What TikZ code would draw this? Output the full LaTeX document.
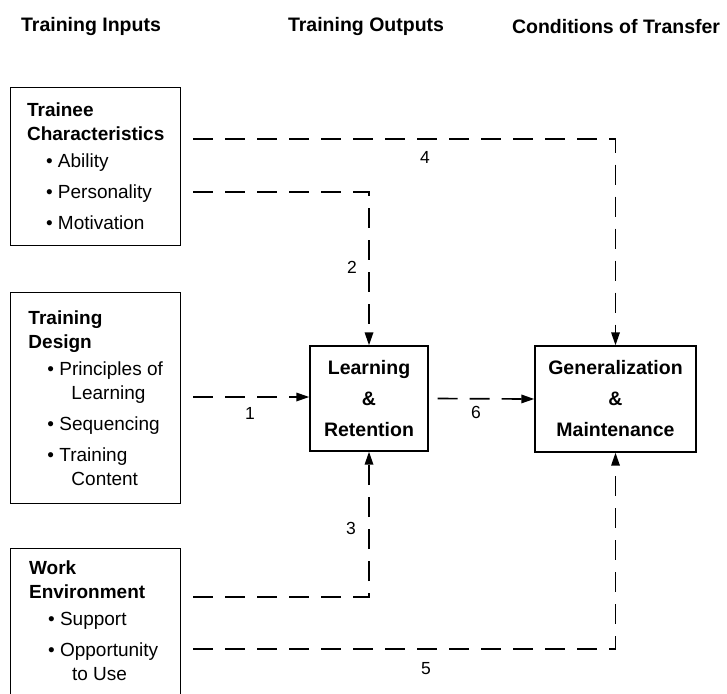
\documentclass[tikz,border=0pt]{standalone}
\usepackage{fontspec}
\setmainfont{Liberation Sans}
\usetikzlibrary{arrows.meta, positioning}

\tikzset{
  inbox/.style={draw, line width=1.4pt, align=left, anchor=north west,
    minimum width=170pt, inner sep=12pt, font=\fontsize{19}{24}\selectfont},
  outbox/.style={draw, line width=1.4pt, align=center, inner sep=4pt,
    font=\bfseries\fontsize{19.5}{31}\selectfont},
  head/.style={font=\bfseries\fontsize{19.5}{24}\selectfont},
  link/.style={dash pattern=on 20pt off 12pt, line width=1.7pt},
  num/.style={font=\fontsize{17.5}{17.5}\selectfont}
}
\newcommand\itm[1]{\hspace*{19pt}\textbullet\ #1}
\newcommand\cnt[1]{\hspace*{43pt}#1}

\begin{document}
\begin{tikzpicture}[x=1pt, y=-1pt, >={Triangle[length=13pt,width=8.5pt]}]

\useasboundingbox (0,0) rectangle (727,693);
\clip (0,0) rectangle (727,693);

% column headings
\node[head] (hin)  at (91,27)  {Training Inputs};
\node[head] (hout) at (366,27) {Training Outputs};
\node[head] (htr)  at (616,27) {Conditions of Transfer};

% training inputs
\node[inbox, minimum height=158pt] (trainee) at (10,87)
  {\textbf{Trainee}\\ \textbf{Characteristics}\\[3pt]
   \itm{Ability}\\[7pt] \itm{Personality}\\[7pt] \itm{Motivation}};
\node[inbox, minimum height=211pt] (design) at (10,292)
  {\textbf{Training}\\ \textbf{Design}\\[3pt]
   \itm{Principles of}\\ \cnt{Learning}\\[7pt] \itm{Sequencing}\\[7pt]
   \itm{Training}\\ \cnt{Content}};
\node[inbox, inner xsep=10pt] (work) at (10,548)
  {\textbf{Work}\hspace*{86pt}\\ \textbf{Environment}\\[3pt]
   \itm{Support}\\[7pt] \itm{Opportunity}\\ \cnt{to Use}\\ \mbox{}};

% outputs and transfer
\node[outbox, minimum width=118pt, minimum height=105pt] (learn) at (369,398.5)
  {Learning\\ \&\\ Retention};
\node[outbox, minimum width=161pt, minimum height=106pt] (gen) at (615.5,399)
  {Generalization\\ \&\\ Maintenance};

% free ends of the links
\coordinate (s4) at (193,139);
\coordinate (s2) at (193,192);
\coordinate (s1) at (193,397);
\coordinate (s3) at (193,597);
\coordinate (s5) at (193,649);

\draw[link,->] (s4) -| (gen.north);
\draw[link,->] (s2) -| (learn.north);
\draw[link,->] (s1) -- (s1 -| learn.west);
\draw[link,->,dash phase=23pt] (learn.east) -- (gen.west);
\draw[link,->] (s3) -| (learn.south);
\draw[link,->] (s5) -| (gen.south);

% link numbers
\node[num] (n4) at (425,157) {4};
\node[num] (n2) at (352,267) {2};
\node[num] (n1) at (250,413) {1};
\node[num] (n6) at (476,412) {6};
\node[num] (n3) at (351,528) {3};
\node[num] (n5) at (426,669) {5};

\end{tikzpicture}
\end{document}
